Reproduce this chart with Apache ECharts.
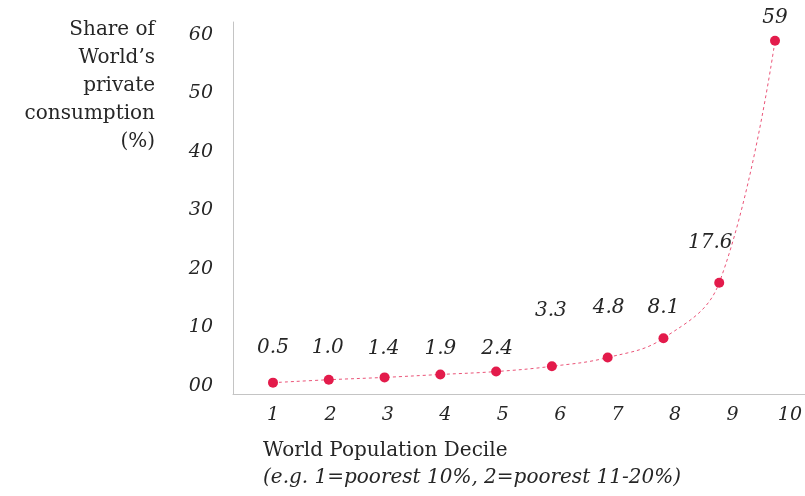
<!DOCTYPE html>
<html>
<head>
<meta charset="utf-8">
<script src="https://cdn.jsdelivr.net/npm/echarts@6/dist/echarts.min.js"></script>
<style>
  html, body { margin: 0; padding: 0; background: #ffffff; }
  #chart { width: 805px; height: 496px; }
</style>
</head>
<body>
<div id="chart"></div>
<script>
// Share of world private consumption by population decile
const deciles = [1, 2, 3, 4, 5, 6, 7, 8, 9, 10];
const consumptionShare = [0.5, 1.0, 1.4, 1.9, 2.4, 3.3, 4.8, 8.1, 17.6, 59];
const valueLabels = ['0.5', '1.0', '1.4', '1.9', '2.4', '3.3', '4.8', '8.1', '17.6', '59'];
const yTickValues = [0, 10, 20, 30, 40, 50, 60];
const yTickLabels = ['00', '10', '20', '30', '40', '50', '60'];

// How far each value label sits above its marker (px), and sideways nudges
const labelRise = [35, 32, 29, 26.5, 23.6, 56, 50.5, 31, 40, 23];
const labelShiftX = [0, -1, -1, 0, 1, -1, 1, 0, -9, 0];

const serif = '"DejaVu Serif", "Liberation Serif", Georgia, serif';
const ink = '#262626';
const accent = '#e31b4b';
const axisGrey = '#c4c4c4';

const points = deciles.map((d, i) => ({
  value: [d, consumptionShare[i]],
  label: {
    formatter: valueLabels[i],
    offset: [labelShiftX[i], 21.5 - labelRise[i]]
  }
}));

const chart = echarts.init(document.getElementById('chart'), null, { renderer: 'canvas' });

chart.setOption({
  animation: false,
  backgroundColor: '#ffffff',
  grid: { left: 233, right: 0, top: 22, bottom: 102, containLabel: false },
  xAxis: [
    {
      type: 'value',
      min: 0.283,
      max: 10.537,
      axisLine: { show: true, onZero: false, lineStyle: { color: axisGrey, width: 1 } },
      axisTick: { show: false },
      axisLabel: { show: false },
      splitLine: { show: false }
    },
    {
      type: 'value',
      min: 0.3036,
      max: 10.262,
      position: 'bottom',
      axisLine: { show: false, onZero: false },
      axisTick: { show: false },
      splitLine: { show: false },
      axisLabel: {
        customValues: deciles,
        formatter: v => String(v),
        margin: 12,
        fontFamily: serif,
        fontStyle: 'italic',
        fontSize: 19,
        color: ink
      }
    }
  ],
  yAxis: {
    type: 'value',
    min: -1.44,
    max: 62.2,
    axisLine: { show: true, onZero: false, lineStyle: { color: axisGrey, width: 1 } },
    axisTick: { show: false },
    splitLine: { show: false },
    axisLabel: {
      customValues: yTickValues,
      formatter: v => yTickLabels[yTickValues.indexOf(v)],
      margin: 20,
      fontFamily: serif,
      fontStyle: 'italic',
      fontSize: 19,
      color: ink
    }
  },
  graphic: [
    {
      type: 'text',
      right: 650,
      top: 16,
      style: {
        text: 'Share of\nWorld\u2019s\nprivate\nconsumption\n(%)',
        align: 'right',
        textAlign: 'right',
        font: '20px ' + serif,
        lineHeight: 28,
        fill: ink
      }
    },
    {
      type: 'text',
      left: 263,
      top: 441,
      style: {
        text: 'World Population Decile',
        font: '20px ' + serif,
        fill: ink
      }
    },
    {
      type: 'text',
      left: 263,
      top: 468,
      style: {
        text: '(e.g. 1=poorest 10%, 2=poorest 11-20%)',
        font: 'italic 20px ' + serif,
        fill: ink
      }
    }
  ],
  series: [
    {
      type: 'line',
      xAxisIndex: 0,
      data: points,
      smooth: 0.4,
      symbol: 'circle',
      symbolSize: 10,
      itemStyle: { color: accent },
      lineStyle: { color: 'rgba(227, 27, 75, 0.75)', width: 1, type: [3, 3] },
      label: {
        show: true,
        position: 'top',
        distance: 5,
        fontFamily: serif,
        fontStyle: 'italic',
        fontSize: 20,
        lineHeight: 22,
        color: ink
      }
    }
  ]
});
</script>
</body>
</html>
